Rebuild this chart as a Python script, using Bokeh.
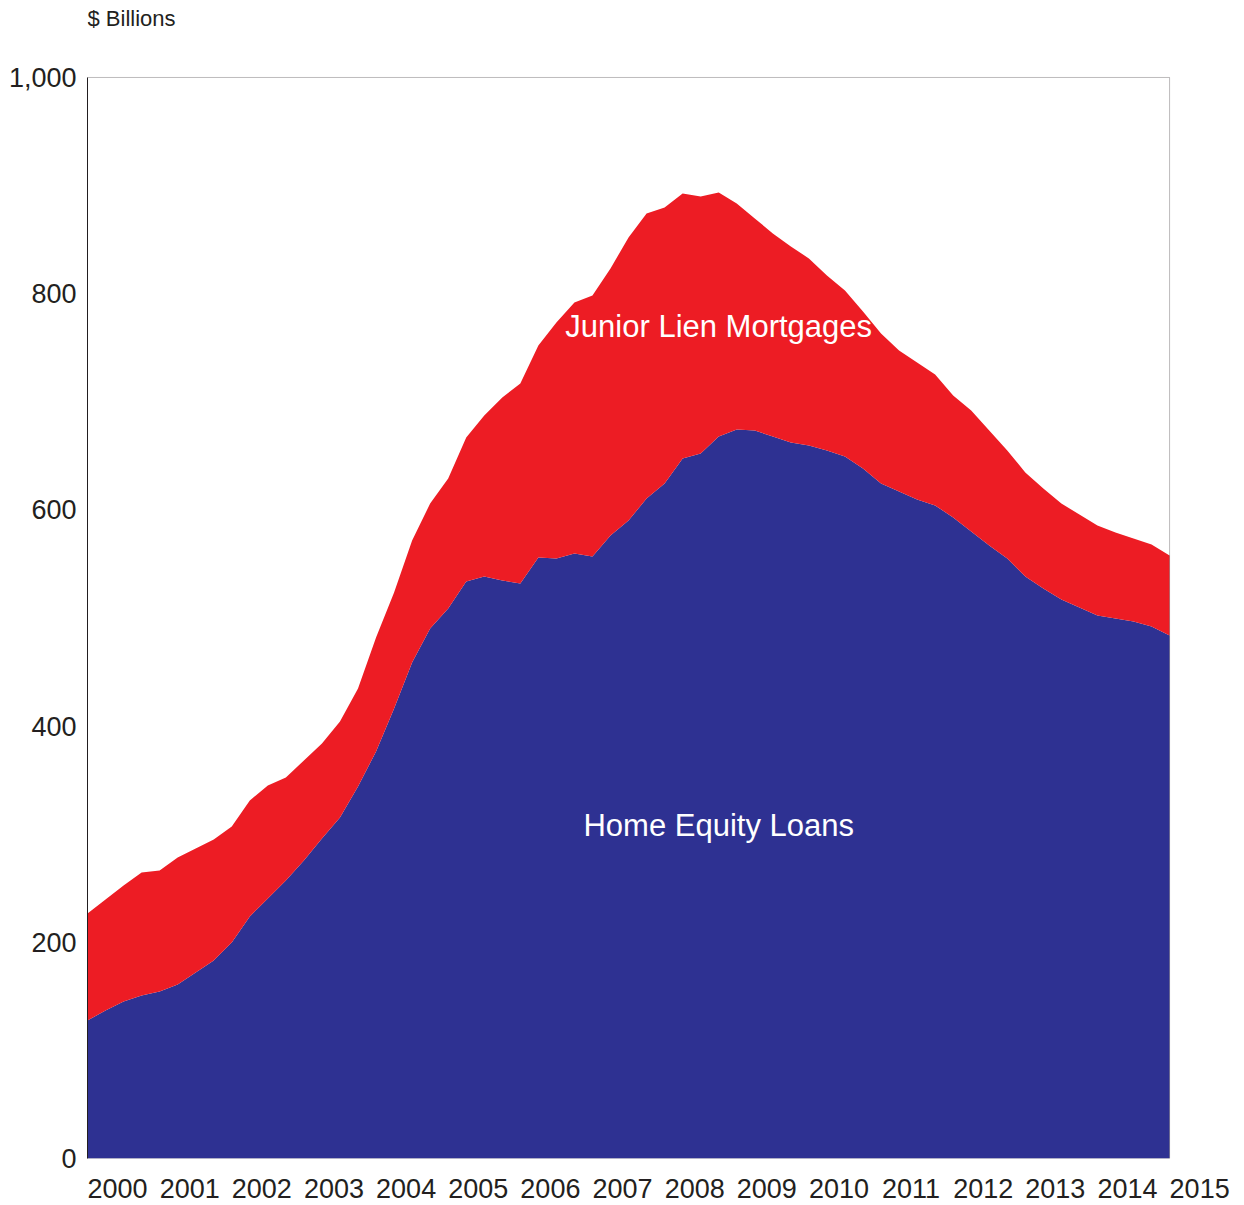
from bokeh.plotting import figure
from bokeh.models import (Range1d, Label, NumeralTickFormatter, FixedTicker, LinearAxis,
                          BoxAnnotation)
from bokeh.embed import file_html
from bokeh.resources import INLINE

# Quarterly data, 2000Q1 .. 2015Q1 ($ billions)
quarters = [2000 + 0.25 * i for i in range(61)]
home_equity = [127.7, 136.9, 145.2, 150.8, 154.5, 161.0, 172.1, 183.2, 199.8, 223.9,
               240.5, 257.2, 275.7, 296.0, 315.4, 344.1, 376.5, 416.3, 458.8, 490.3,
               508.8, 533.8, 538.4, 534.7, 531.9, 556.0, 555.0, 559.7, 556.9, 576.3,
               590.2, 610.5, 624.4, 647.5, 652.2, 667.9, 674.4, 673.4, 667.9, 662.4,
               659.6, 655.0, 649.4, 638.3, 624.4, 617.0, 609.6, 604.1, 593.0, 580.0,
               567.1, 555.0, 538.4, 527.3, 517.1, 509.7, 502.3, 499.5, 496.8, 492.1,
               483.8]
total = [226.6, 239.6, 252.5, 264.6, 266.4, 278.4, 286.8, 295.1, 307.1, 331.2,
         345.1, 352.5, 368.2, 383.9, 404.3, 434.8, 482.0, 523.6, 571.7, 605.9,
         629.0, 667.0, 687.3, 704.0, 716.9, 752.1, 773.4, 791.9, 798.3, 823.3,
         852.0, 874.2, 879.7, 892.7, 889.9, 893.6, 883.4, 869.6, 855.7, 843.7,
         832.6, 816.8, 803.0, 783.5, 763.2, 747.5, 736.4, 725.3, 705.8, 691.9,
         673.4, 655.0, 634.6, 619.8, 605.9, 595.7, 585.6, 579.1, 573.5, 568.0,
         557.8]
junior_lien = [round(t - h, 1) for t, h in zip(total, home_equity)]

year_ticks = list(range(2000, 2016))
y_ticks = [0, 200, 400, 600, 800, 1000]

FONT = "Liberation Sans"
TXT = "#231f20"

X0, X1 = 2000, 2015          # data extent (plot box)
Y0, Y1 = 0, 1000
PX_PER_YEAR = 1082 / 15
PX_PER_UNIT = 1081 / 1000
X_END = 2015.9               # extra room on the right for the last year label
Y_END = 1071.2               # extra room on top for the unit label
LABEL_SHIFT = 0.4167         # year labels start at the year position

stack_top = [h + j for h, j in zip(home_equity, junior_lien)]

p = figure(frame_width=round((X_END - X0) * PX_PER_YEAR),
           frame_height=round((Y_END - Y0) * PX_PER_UNIT),
           output_backend="svg", toolbar_location=None,
           x_range=Range1d(X0, X_END), y_range=Range1d(Y0, Y_END),
           x_axis_location=None,
           min_border_left=87, min_border_right=0, min_border_top=0, min_border_bottom=46)

p.varea(x=quarters, y1=[0] * len(quarters), y2=home_equity, fill_color="#2e3192")
p.varea(x=quarters, y1=home_equity, y2=stack_top, fill_color="#ed1c24")

p.xgrid.visible = False
p.ygrid.visible = False
p.outline_line_color = None

ya = p.yaxis[0]
ya.ticker = FixedTicker(ticks=y_ticks)
ya.bounds = (Y0, Y1)
ya.formatter = NumeralTickFormatter(format="0,0")
ya.major_tick_line_color = None
ya.minor_tick_line_color = None
ya.axis_line_color = "#231f20"
ya.major_label_standoff = 5
ya.major_label_text_font = FONT
ya.major_label_text_font_size = "27px"
ya.major_label_text_color = TXT

p.extra_x_ranges = {"lab": Range1d(X0 - LABEL_SHIFT, X_END - LABEL_SHIFT)}
xa = LinearAxis(x_range_name="lab", ticker=FixedTicker(ticks=year_ticks))
xa.major_tick_line_color = None
xa.minor_tick_line_color = None
xa.axis_line_color = None
xa.major_label_standoff = 14
xa.major_label_text_font = FONT
xa.major_label_text_font_size = "27px"
xa.major_label_text_color = TXT
p.add_layout(xa, "below")

p.add_layout(BoxAnnotation(left=X0, right=X1, bottom=Y0, top=Y1, fill_alpha=0,
                           line_color="#231f20", line_width=1))

p.add_layout(Label(x=X0, y=1054.5, text="$ Billions", text_align="left",
                   text_baseline="middle", text_font=FONT, text_font_size="22px",
                   text_color=TXT))

p.add_layout(Label(x=2008.75, y=770, text="Junior Lien Mortgages", text_align="center",
                   text_baseline="middle", text_font=FONT, text_font_size="31px",
                   text_color="white"))
p.add_layout(Label(x=2008.75, y=308, text="Home Equity Loans", text_align="center",
                   text_baseline="middle", text_font=FONT, text_font_size="31px",
                   text_color="white"))

open("out.html", "w").write(file_html(p, INLINE))
